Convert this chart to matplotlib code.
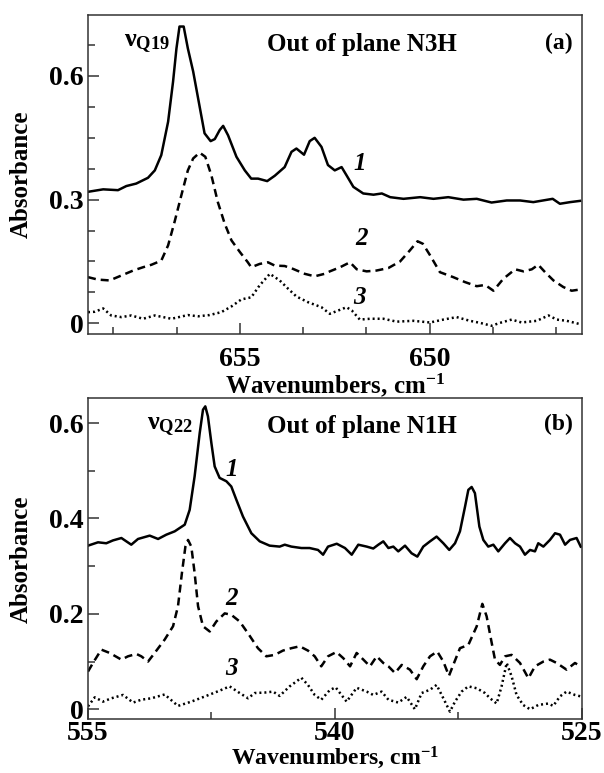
import numpy as np
import matplotlib
matplotlib.use("Agg")
import matplotlib.pyplot as plt
from matplotlib.ticker import MultipleLocator

plt.rcParams['font.family'] = ['Liberation Serif', 'DejaVu Serif']
plt.rcParams['font.weight'] = 'bold'
plt.rcParams['mathtext.fontset'] = 'custom'
plt.rcParams['mathtext.rm'] = 'Liberation Serif:bold'
plt.rcParams['mathtext.it'] = 'Liberation Serif:bold'
plt.rcParams['mathtext.bf'] = 'Liberation Serif:bold'

# panel (a): out of plane N3H, wavenumbers in cm-1
a1_x = [659.0, 658.60, 658.21, 657.99, 657.73, 657.42, 657.24, 657.07, 656.89, 656.76, 656.67, 656.59,
        656.48, 656.37, 656.23, 656.10, 655.93, 655.77, 655.66, 655.53, 655.44, 655.31, 655.09, 654.87,
        654.70, 654.52, 654.28, 654.08, 653.82, 653.64, 653.51, 653.31, 653.16, 653.03, 652.85, 652.68,
        652.50, 652.32, 652.19, 652.01, 651.75, 651.48, 651.26, 651.04, 650.69, 650.25, 649.90, 649.51,
        649.11, 648.76, 648.37, 647.97, 647.62, 647.27, 646.76, 646.57, 646.30, 646.04]
a1_y = [0.319, 0.325, 0.323, 0.333, 0.339, 0.353, 0.371, 0.408, 0.489, 0.586, 0.667, 0.720,
        0.720, 0.667, 0.611, 0.546, 0.461, 0.442, 0.447, 0.469, 0.479, 0.456, 0.404, 0.371,
        0.351, 0.351, 0.345, 0.358, 0.379, 0.416, 0.424, 0.409, 0.442, 0.450, 0.428, 0.384,
        0.371, 0.379, 0.359, 0.331, 0.315, 0.312, 0.315, 0.306, 0.302, 0.306, 0.302, 0.306,
        0.300, 0.302, 0.293, 0.298, 0.298, 0.294, 0.302, 0.290, 0.294, 0.297]

a2_x = [659.0, 658.74, 658.43, 658.12, 657.81, 657.55, 657.33, 657.07, 656.89, 656.72, 656.54, 656.37,
        656.23, 656.06, 655.91, 655.75, 655.58, 655.40, 655.22, 655.0, 654.79, 654.70, 654.48, 654.26,
        654.08, 653.82, 653.60, 653.29, 653.03, 652.77, 652.63, 652.36, 652.10, 651.92, 651.66, 651.40,
        651.09, 650.78, 650.52, 650.32, 650.18, 649.99, 649.73, 649.38, 649.07, 648.76, 648.54, 648.32,
        648.06, 647.75, 647.53, 647.31, 647.14, 646.96, 646.74, 646.48, 646.26, 646.04]
a2_y = [0.112, 0.106, 0.104, 0.116, 0.128, 0.136, 0.142, 0.152, 0.189, 0.246, 0.311, 0.371,
        0.400, 0.414, 0.404, 0.359, 0.294, 0.242, 0.201, 0.173, 0.148, 0.136, 0.144, 0.148,
        0.140, 0.139, 0.132, 0.120, 0.114, 0.120, 0.126, 0.136, 0.148, 0.131, 0.126, 0.128,
        0.134, 0.150, 0.177, 0.199, 0.193, 0.165, 0.124, 0.112, 0.100, 0.090, 0.093, 0.079,
        0.108, 0.131, 0.126, 0.131, 0.142, 0.124, 0.104, 0.088, 0.079, 0.082]

a3_x = [659.0, 658.82, 658.60, 658.39, 658.12, 657.86, 657.55, 657.24, 656.80, 656.37, 656.10, 655.80,
        655.49, 655.22, 654.96, 654.70, 654.48, 654.21, 653.95, 653.73, 653.51, 653.20, 652.85, 652.63,
        652.41, 652.19, 652.05, 651.84, 651.57, 651.22, 650.87, 650.43, 649.99, 649.64, 649.29, 648.94,
        648.67, 648.37, 648.15, 647.84, 647.58, 647.18, 646.87, 646.65, 646.39, 646.04]
a3_y = [0.027, 0.028, 0.036, 0.019, 0.015, 0.019, 0.011, 0.019, 0.011, 0.020, 0.017, 0.020,
        0.027, 0.041, 0.058, 0.063, 0.092, 0.120, 0.104, 0.084, 0.065, 0.051, 0.039, 0.023,
        0.031, 0.039, 0.031, 0.009, 0.011, 0.011, 0.004, 0.006, 0.002, 0.009, 0.015, 0.006,
        0.001, -0.006, 0.001, 0.009, 0.002, 0.006, 0.019, 0.009, 0.006, -0.002]

# panel (b): out of plane N1H
b1_x = [555.0, 554.39, 553.89, 553.48, 552.97, 552.37, 551.96, 551.25, 550.74, 550.24, 549.73, 549.12,
        548.82, 548.52, 548.21, 548.01, 547.87, 547.71, 547.50, 547.30, 547.0, 546.59, 546.29, 545.98,
        545.58, 545.07, 544.56, 543.96, 543.35, 543.04, 542.64, 542.03, 541.53, 541.02, 540.71, 540.41,
        539.88, 539.38, 538.97, 538.57, 538.06, 537.66, 537.35, 537.05, 536.74, 536.44, 536.14, 535.73,
        535.33, 534.98, 534.62, 534.21, 533.81, 533.40, 533.04, 532.69, 532.39, 532.08, 531.88, 531.68,
        531.48, 531.21, 530.97, 530.67, 530.36, 530.06, 529.65, 529.35, 529.04, 528.74, 528.44, 528.13,
        527.83, 527.63, 527.32, 526.92, 526.61, 526.31, 526.0, 525.70, 525.30, 525.05]
b1_y = [0.343, 0.350, 0.348, 0.354, 0.359, 0.345, 0.357, 0.364, 0.357, 0.366, 0.373, 0.387,
        0.418, 0.488, 0.579, 0.628, 0.635, 0.614, 0.558, 0.509, 0.485, 0.478, 0.467, 0.439,
        0.404, 0.369, 0.352, 0.343, 0.341, 0.345, 0.341, 0.338, 0.338, 0.334, 0.324, 0.341,
        0.347, 0.338, 0.324, 0.345, 0.341, 0.337, 0.345, 0.352, 0.338, 0.341, 0.331, 0.343,
        0.327, 0.320, 0.341, 0.352, 0.362, 0.348, 0.334, 0.348, 0.373, 0.425, 0.460, 0.466,
        0.453, 0.383, 0.355, 0.341, 0.345, 0.331, 0.348, 0.359, 0.348, 0.341, 0.324, 0.334,
        0.331, 0.348, 0.341, 0.355, 0.369, 0.366, 0.345, 0.355, 0.359, 0.341]

b2_x = [555.0, 554.70, 554.19, 553.68, 552.97, 552.57, 552.06, 551.76, 551.35, 550.95, 550.34, 549.83,
        549.53, 549.29, 549.08, 548.92, 548.72, 548.52, 548.31, 548.01, 547.60, 547.20, 546.69, 546.29,
        545.78, 545.27, 544.67, 544.16, 543.65, 543.15, 542.64, 542.13, 541.63, 541.22, 540.82, 540.41,
        539.90, 539.48, 539.07, 538.67, 538.26, 537.86, 537.45, 537.05, 536.74, 536.34, 535.93, 535.43,
        535.02, 534.62, 534.21, 533.77, 533.40, 533.06, 532.75, 532.39, 531.88, 531.37, 531.03, 530.77,
        530.46, 530.26, 529.96, 529.65, 529.25, 528.74, 528.23, 527.83, 527.32, 526.92, 526.51, 525.91,
        525.40, 525.05]
b2_y = [0.079, 0.097, 0.125, 0.118, 0.104, 0.111, 0.116, 0.111, 0.100, 0.118, 0.146, 0.174,
        0.216, 0.286, 0.341, 0.355, 0.341, 0.286, 0.216, 0.174, 0.163, 0.184, 0.201, 0.198,
        0.184, 0.159, 0.128, 0.111, 0.114, 0.123, 0.128, 0.132, 0.123, 0.111, 0.090, 0.111,
        0.120, 0.107, 0.090, 0.118, 0.104, 0.090, 0.111, 0.097, 0.090, 0.076, 0.093, 0.083,
        0.063, 0.090, 0.111, 0.121, 0.100, 0.070, 0.097, 0.128, 0.135, 0.174, 0.221, 0.195,
        0.139, 0.104, 0.093, 0.111, 0.114, 0.097, 0.065, 0.090, 0.100, 0.104, 0.097, 0.083,
        0.097, 0.090]

b3_x = [555.0, 554.59, 554.09, 553.58, 552.87, 552.26, 551.76, 551.15, 550.34, 549.53, 548.72, 547.81,
        547.0, 546.39, 545.78, 545.27, 544.87, 544.26, 543.75, 543.35, 542.74, 542.03, 541.63, 541.22,
        540.82, 540.31, 539.95, 539.28, 538.67, 538.06, 537.66, 537.15, 536.74, 536.14, 535.63, 535.13,
        534.72, 534.21, 533.81, 533.40, 533.0, 532.69, 532.29, 531.88, 531.37, 530.87, 530.56, 530.16,
        529.86, 529.55, 529.25, 528.95, 528.55, 528.13, 527.63, 527.02, 526.72, 526.31, 525.91, 525.40,
        525.05]
b3_y = [0.006, 0.025, 0.016, 0.023, 0.030, 0.014, 0.020, 0.023, 0.031, 0.007, 0.016, 0.028,
        0.039, 0.048, 0.034, 0.023, 0.034, 0.035, 0.037, 0.028, 0.048, 0.066, 0.051, 0.030,
        0.020, 0.040, 0.046, 0.016, 0.045, 0.037, 0.030, 0.037, 0.020, 0.014, 0.026, 0.000,
        0.034, 0.041, 0.051, 0.023, -0.005, 0.016, 0.037, 0.048, 0.044, 0.034, 0.023, 0.012,
        0.048, 0.097, 0.069, 0.030, 0.009, 0.000, 0.009, 0.012, 0.007, 0.027, 0.037, 0.030,
        0.027]

a_xticks = [655, 650]
a_yticks = [0, 0.3, 0.6]
a_yticklabels = ['0', '0.3', '0.6']
b_xticks = [555, 540, 525]
b_yticks = [0, 0.2, 0.4, 0.6]
b_yticklabels = ['0', '0.2', '0.4', '0.6']

fig = plt.figure(figsize=(6.04, 7.73), dpi=100)
ax1 = fig.add_axes([0.1457, 0.5679, 0.8171, 0.4127])
ax2 = fig.add_axes([0.1457, 0.0695, 0.8171, 0.4153])

lw = 1.8
for ax, c1, c2, c3 in ((ax1, (a1_x, a1_y), (a2_x, a2_y), (a3_x, a3_y)),
                       (ax2, (b1_x, b1_y), (b2_x, b2_y), (b3_x, b3_y))):
    ax.plot(c1[0], c1[1], color='black', lw=lw, solid_joinstyle='round')
    ax.plot(c2[0], c2[1], color='black', lw=lw, linestyle=(0, (3.2, 2.0)))
    ax.plot(c3[0], c3[1], color='black', lw=lw, linestyle=(0, (0.8, 1.2)))
    for s in ax.spines.values():
        s.set_linewidth(1.1)
        s.set_color('#333333')
    ax.tick_params(which='both', direction='in', top=False, right=False,
                   labelsize=20, width=1.1, color='#333333')
    ax.tick_params(which='major', length=8)
    ax.tick_params(which='minor', length=5)
    ax.set_ylabel('Absorbance', fontsize=18, fontweight='bold')
    ax.yaxis.set_label_coords(-0.111, 0.5)

ax1.set_xlim(659, 646)
ax1.set_ylim(-0.026, 0.748)
ax1.set_xticks(a_xticks)
ax1.xaxis.set_minor_locator(MultipleLocator(5 / 3))
ax1.set_yticks(a_yticks, a_yticklabels)
ax1.yaxis.set_minor_locator(MultipleLocator(0.075))
ax1.tick_params(axis='x', pad=9)
ax1.tick_params(axis='y', pad=3)
ax1.set_xlabel('Wavenumbers, cm$^{-1}$', fontsize=18, fontweight='bold', labelpad=0)

ax2.set_xlim(555, 525)
ax2.set_ylim(-0.021, 0.652)
ax2.set_xticks(b_xticks)
ax2.xaxis.set_minor_locator(MultipleLocator(7.5))
ax2.set_yticks(b_yticks, b_yticklabels)
ax2.yaxis.set_minor_locator(MultipleLocator(0.1))
ax2.tick_params(axis='x', pad=1.5)
ax2.tick_params(axis='y', pad=3)
ax2.set_xlabel('Wavenumbers, cm$^{-1}$', fontsize=17, fontweight='bold', labelpad=-1)

ax1.text(0.072, 0.911, r'$\nu_{Q19}$', transform=ax1.transAxes, fontsize=19, va='center', ha='left')
ax1.text(0.555, 0.906, 'Out of plane N3H', transform=ax1.transAxes, fontsize=18, va='center', ha='center')
ax1.text(0.953, 0.911, '(a)', transform=ax1.transAxes, fontsize=17, va='center', ha='center')
ax2.text(0.119, 0.912, r'$\nu_{Q22}$', transform=ax2.transAxes, fontsize=19, va='center', ha='left')
ax2.text(0.555, 0.912, 'Out of plane N1H', transform=ax2.transAxes, fontsize=18, va='center', ha='center')
ax2.text(0.953, 0.917, '(b)', transform=ax2.transAxes, fontsize=17, va='center', ha='center')

for ax, xs, ys in ((ax1, (0.55, 0.554, 0.55), (0.535, 0.30, 0.113)),
                   (ax2, (0.291, 0.291, 0.291), (0.779, 0.377, 0.159))):
    for lab, x, y in zip(['1', '2', '3'], xs, ys):
        ax.text(x, y, lab, transform=ax.transAxes, fontsize=18, style='italic',
                fontweight='bold', va='center', ha='center')

fig.savefig('out.png', dpi=100)
